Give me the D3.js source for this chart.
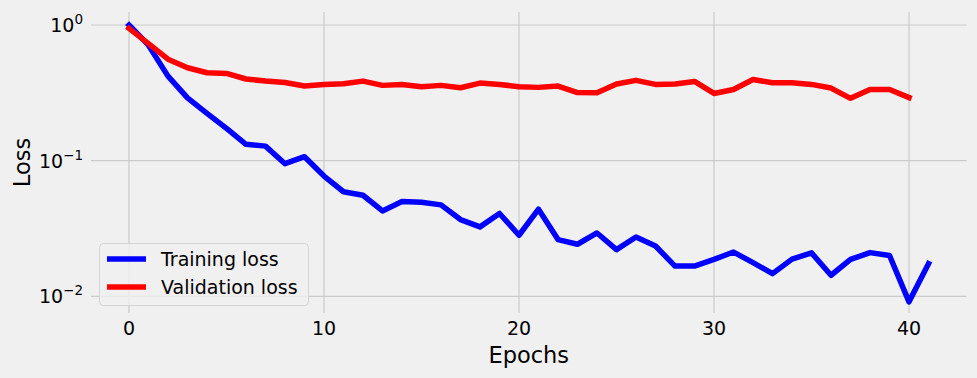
<!DOCTYPE html>
<html>
<head>
<meta charset="utf-8">
<script src="https://cdn.jsdelivr.net/npm/d3@7"></script>
<style>
  html, body { margin: 0; padding: 0; background: #f0f0f0; }
  svg { display: block; font-family: "DejaVu Sans", sans-serif; }
</style>
</head>
<body>
<svg id="chart" width="977" height="378"></svg>
<script>
// ---- data ----
const trainingLoss = [1.0, 0.71, 0.42, 0.29, 0.223, 0.173, 0.132, 0.128, 0.095, 0.107,
  0.077, 0.059, 0.0556, 0.0426, 0.050, 0.0494, 0.0472, 0.0368, 0.0325, 0.0408,
  0.0282, 0.0439, 0.0262, 0.0242, 0.0293, 0.0221, 0.0274, 0.0235, 0.0167, 0.0167,
  0.0187, 0.0212, 0.0177, 0.0147, 0.0188, 0.0209, 0.0143, 0.0187, 0.021, 0.020,
  0.0091, 0.0174];
const validationLoss = [0.945, 0.73, 0.56, 0.484, 0.445, 0.44, 0.40, 0.386, 0.377, 0.355,
  0.365, 0.369, 0.386, 0.359, 0.365, 0.351, 0.359, 0.345, 0.373, 0.365,
  0.351, 0.347, 0.355, 0.318, 0.317, 0.367, 0.391, 0.365, 0.367, 0.384,
  0.313, 0.335, 0.397, 0.375, 0.375, 0.365, 0.343, 0.288, 0.335, 0.335,
  0.292];
const xTicks = [0, 10, 20, 30, 40];
const yTicks = [1, 0.1, 0.01];
const yTickExponents = ["0", "\u22121", "\u22122"];
const seriesNames = ["Training loss", "Validation loss"];
const seriesColors = ["#0000ff", "#ff0000"];

// ---- layout ----
const W = 977, H = 378;
const plot = { left: 89, right: 968.5, top: 12, bottom: 313 };
const svg = d3.select("#chart");
svg.append("rect").attr("width", W).attr("height", H).attr("fill", "#f0f0f0");

const x = d3.scaleLinear().domain([-2.05, 43.05]).range([plot.left, plot.right]);
const y = d3.scaleLog().domain([Math.pow(10, -2.123), Math.pow(10, 0.096)]).range([plot.bottom, plot.top]);

// grid
const grid = svg.append("g");
grid.selectAll("line.vx").data(xTicks).join("line")
  .attr("x1", d => x(d)).attr("x2", d => x(d))
  .attr("y1", plot.top).attr("y2", plot.bottom)
  .attr("stroke", "#cbcbcb").attr("stroke-width", 1.2);
grid.selectAll("line.hy").data(yTicks).join("line")
  .attr("class", "hy")
  .attr("x1", plot.left + 2).attr("x2", plot.right - 2)
  .attr("y1", d => y(d)).attr("y2", d => y(d))
  .attr("stroke", "#cbcbcb").attr("stroke-width", 1.2);

// x tick labels
svg.append("g").selectAll("text").data(xTicks).join("text")
  .attr("x", d => x(d)).attr("y", 335)
  .attr("text-anchor", "middle")
  .attr("font-size", 19).attr("fill", "#000")
  .text(d => d);

// y tick labels (10^n)
const yt = svg.append("g").selectAll("text").data(yTicks).join("text")
  .attr("x", 83).attr("y", d => y(d) + 7)
  .attr("text-anchor", "end")
  .attr("font-size", 19).attr("fill", "#000");
yt.append("tspan").text("10");
yt.append("tspan").attr("dy", -8).attr("font-size", 13.5).text((d, i) => yTickExponents[i]);

// axis labels
svg.append("text").attr("x", (plot.left + plot.right) / 2).attr("y", 363)
  .attr("text-anchor", "middle").attr("font-size", 22.5).attr("fill", "#000")
  .text("Epochs");
svg.append("text")
  .attr("transform", `translate(30,${(plot.top + plot.bottom) / 2}) rotate(-90)`)
  .attr("text-anchor", "middle").attr("font-size", 22.5).attr("fill", "#000")
  .text("Loss");

// lines
const line = d3.line().x((d, i) => x(i)).y(d => y(d));
[trainingLoss, validationLoss].forEach((s, k) => {
  svg.append("path").datum(s)
    .attr("d", line)
    .attr("fill", "none")
    .attr("stroke", seriesColors[k])
    .attr("stroke-width", 5.5)
    .attr("stroke-linejoin", "round")
    .attr("stroke-linecap", "square");
});

// legend
const lg = svg.append("g");
lg.append("rect").attr("x", 99.5).attr("y", 243.5).attr("width", 209).attr("height", 62)
  .attr("rx", 4).attr("fill", "#f0f0f0").attr("fill-opacity", 0.8)
  .attr("stroke", "#d4d4d4").attr("stroke-width", 1);
seriesNames.forEach((name, k) => {
  const cy = 259 + k * 28;
  lg.append("line").attr("x1", 107).attr("x2", 146).attr("y1", cy).attr("y2", cy)
    .attr("stroke", seriesColors[k]).attr("stroke-width", 5.5);
  lg.append("text").attr("x", 161).attr("y", cy + 6.5)
    .attr("font-size", 19).attr("fill", "#000").text(name);
});
</script>
</body>
</html>
